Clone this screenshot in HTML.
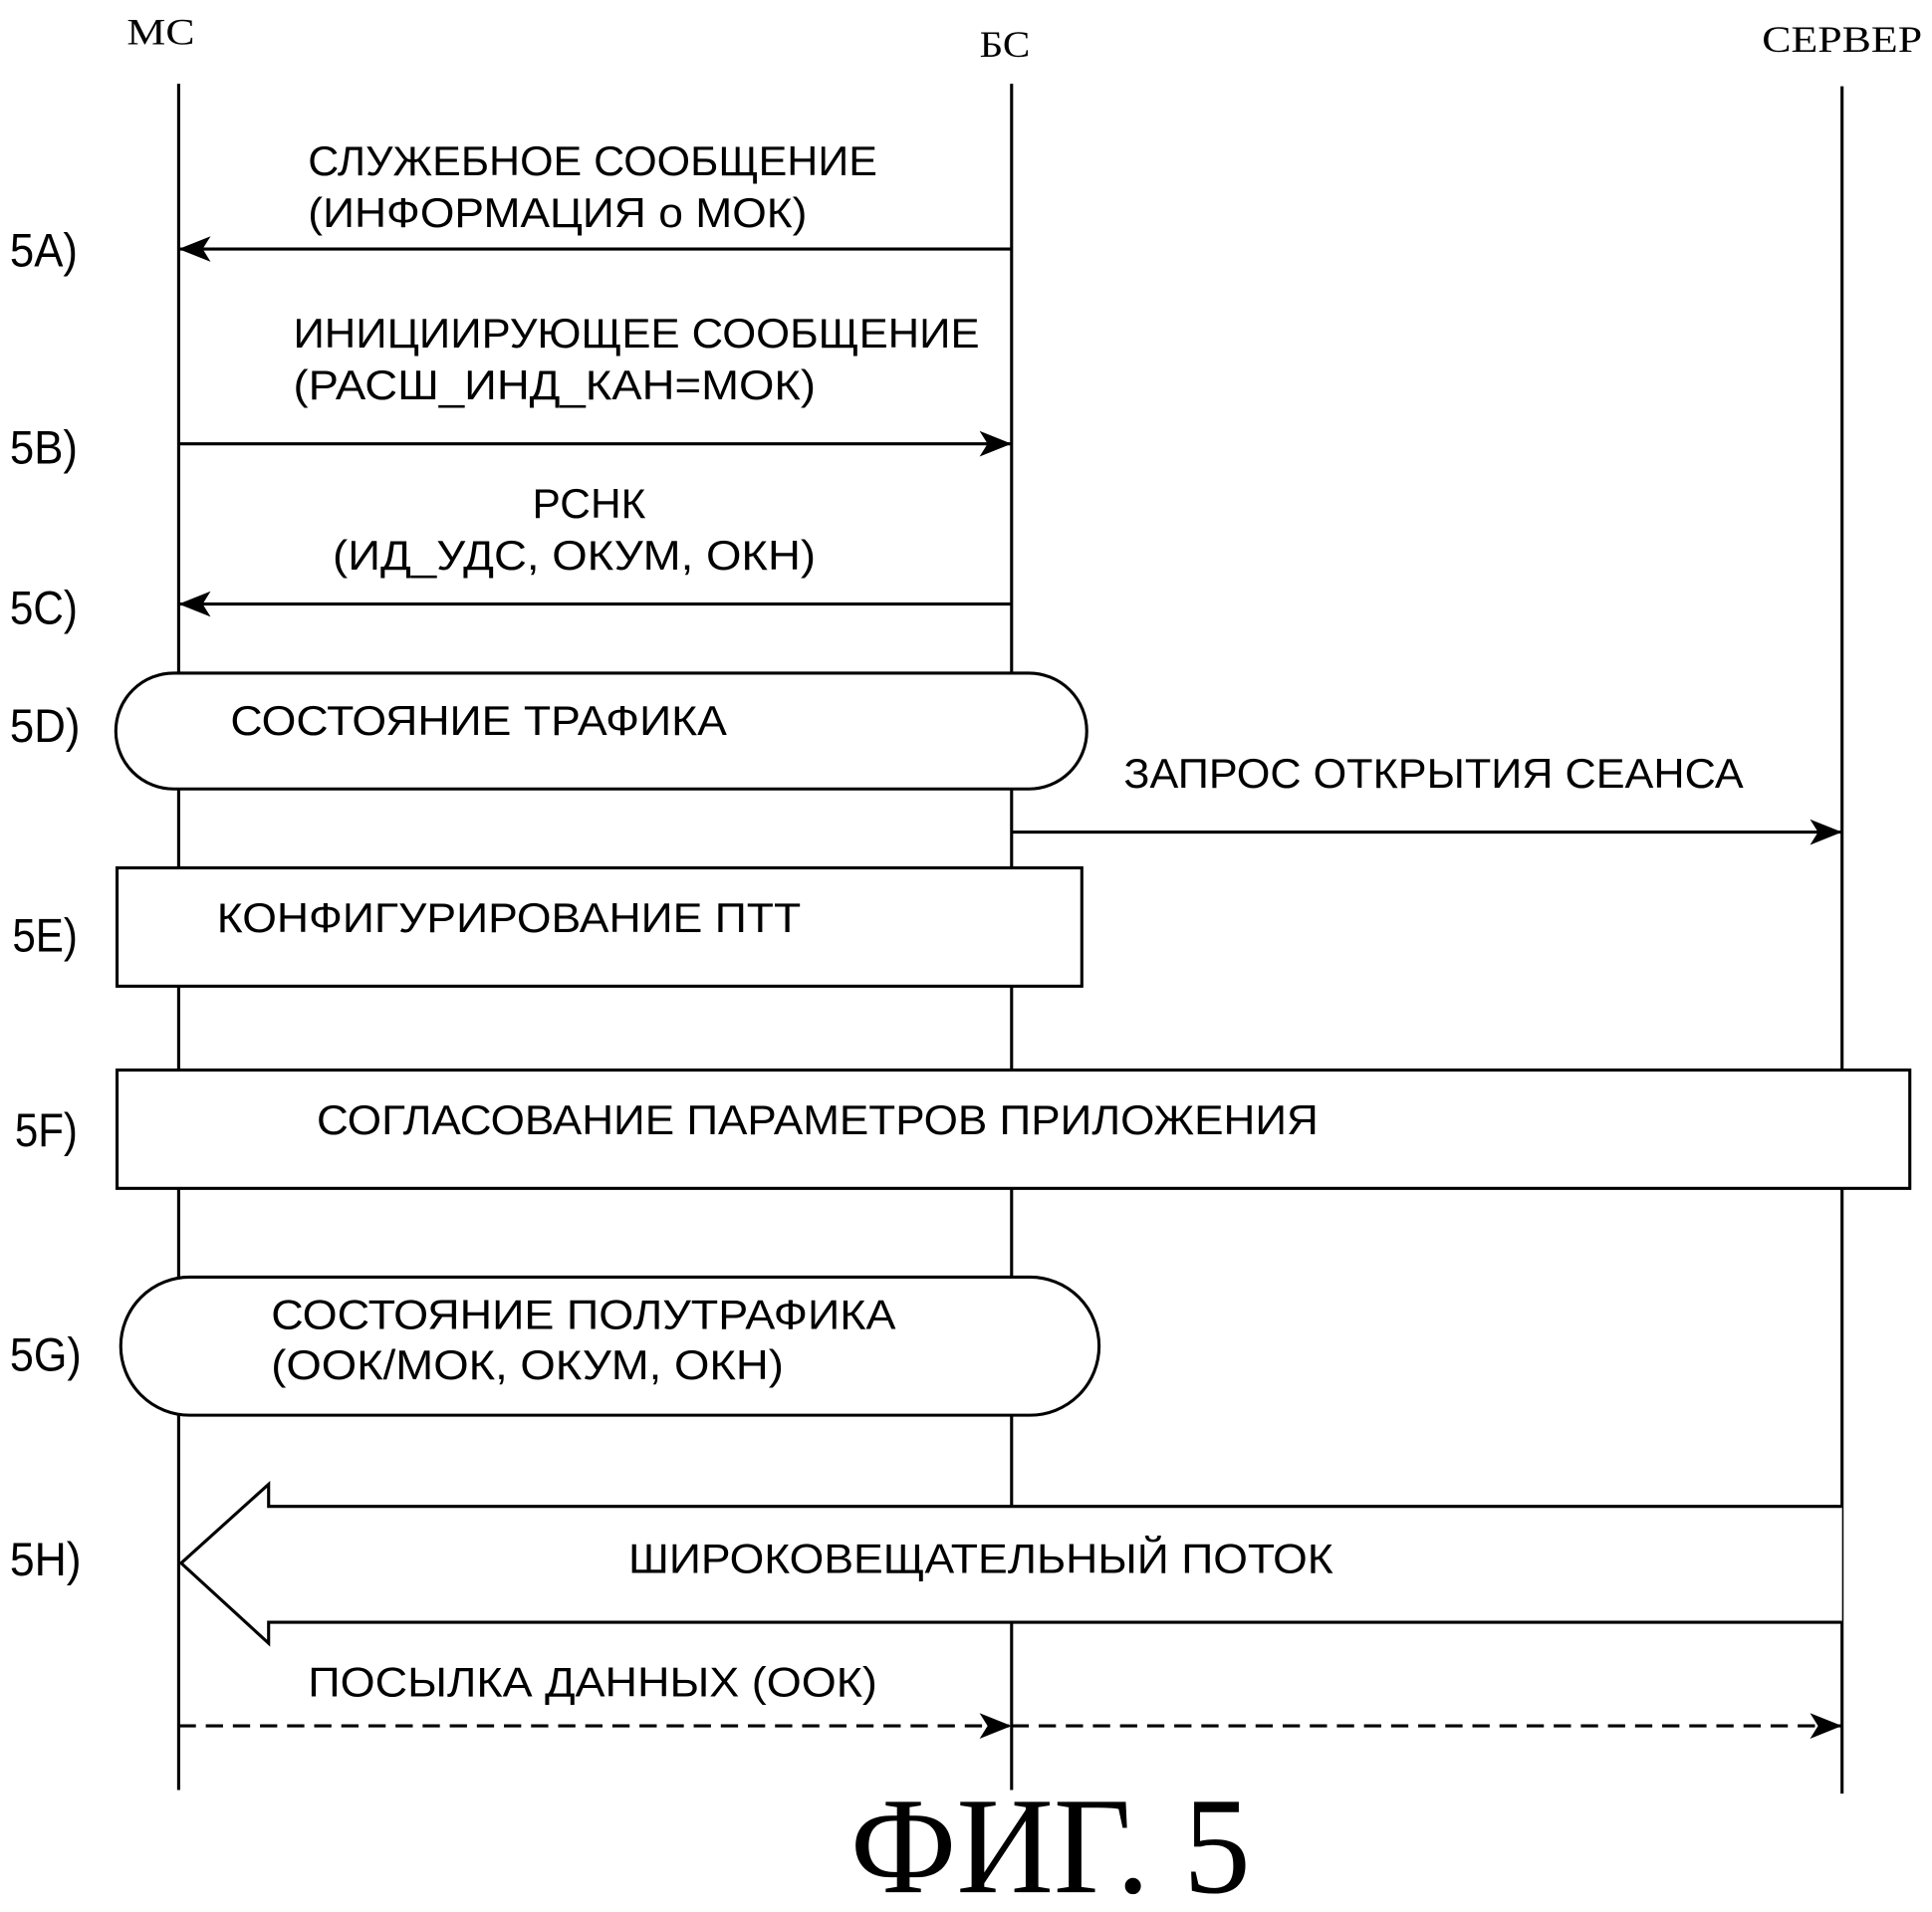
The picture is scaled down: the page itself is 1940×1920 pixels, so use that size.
<!DOCTYPE html>
<html><head><meta charset="utf-8"><style>
html,body{margin:0;padding:0;background:#fff;}
svg{display:block;}
.s{font-family:"Liberation Sans","DejaVu Sans",sans-serif;fill:#000;}
.r{font-family:"Liberation Serif","DejaVu Serif",serif;fill:#000;}
</style></head><body>
<svg width="1940" height="1920" viewBox="0 0 1568 1551" preserveAspectRatio="none" xmlns="http://www.w3.org/2000/svg">
<defs>
<marker id="a" viewBox="0 0 20 20" refX="20" refY="10" markerWidth="26" markerHeight="26" markerUnits="userSpaceOnUse" orient="auto">
<path d="M0,2 L20,10 L0,18 L5,10 z" fill="#000"/>
</marker>
</defs>
<g stroke="#000" stroke-width="2.5" fill="none">
<line x1="145" y1="68" x2="145" y2="1452"/>
<line x1="821" y1="68" x2="821" y2="1452"/>
<line x1="1495" y1="70" x2="1495" y2="1455"/>
<line x1="821" y1="202" x2="145" y2="202" marker-end="url(#a)"/>
<line x1="145" y1="360" x2="821" y2="360" marker-end="url(#a)"/>
<line x1="821" y1="490" x2="145" y2="490" marker-end="url(#a)"/>
<line x1="821" y1="675" x2="1495" y2="675" marker-end="url(#a)"/>
<line x1="145" y1="1400" x2="821" y2="1400" stroke-dasharray="14,8" marker-end="url(#a)"/>
<line x1="821" y1="1400" x2="1495" y2="1400" stroke-dasharray="14,8" marker-end="url(#a)"/>
<rect x="94" y="546" width="788" height="94" rx="47" fill="#fff"/>
<rect x="95" y="704" width="783" height="96" fill="#fff"/>
<rect x="95" y="868" width="1455" height="96" fill="#fff"/>
<rect x="98" y="1036" width="794" height="112" rx="56" fill="#fff"/>
<path d="M1495,1222 L218,1222 L218,1204 L147,1268 L218,1333 L218,1316 L1495,1316" fill="#fff"/>
</g>
<g class="s" font-size="34" lengthAdjust="spacingAndGlyphs">
<text class="s" x="250" y="142" textLength="462" lengthAdjust="spacingAndGlyphs">СЛУЖЕБНОЕ СООБЩЕНИЕ</text>
<text class="s" x="250" y="184" textLength="405" lengthAdjust="spacingAndGlyphs">(ИНФОРМАЦИЯ о МОК)</text>
<text class="s" x="238" y="282" textLength="557" lengthAdjust="spacingAndGlyphs">ИНИЦИИРУЮЩЕЕ СООБЩЕНИЕ</text>
<text class="s" x="238" y="324" textLength="424" lengthAdjust="spacingAndGlyphs">(РАСШ_ИНД_КАН=МОК)</text>
<text class="s" x="432" y="420" textLength="92" lengthAdjust="spacingAndGlyphs">РСНК</text>
<text class="s" x="270" y="462" textLength="392" lengthAdjust="spacingAndGlyphs">(ИД_УДС, ОКУМ, ОКН)</text>
<text class="s" x="187" y="596" textLength="403" lengthAdjust="spacingAndGlyphs">СОСТОЯНИЕ ТРАФИКА</text>
<text class="s" x="912" y="639" textLength="503" lengthAdjust="spacingAndGlyphs">ЗАПРОС ОТКРЫТИЯ СЕАНСА</text>
<text class="s" x="176" y="756" textLength="474" lengthAdjust="spacingAndGlyphs">КОНФИГУРИРОВАНИЕ ПТТ</text>
<text class="s" x="257" y="920" textLength="813" lengthAdjust="spacingAndGlyphs">СОГЛАСОВАНИЕ ПАРАМЕТРОВ ПРИЛОЖЕНИЯ</text>
<text class="s" x="220" y="1078" textLength="507" lengthAdjust="spacingAndGlyphs">СОСТОЯНИЕ ПОЛУТРАФИКА</text>
<text class="s" x="220" y="1119" textLength="416" lengthAdjust="spacingAndGlyphs">(ООК/МОК, ОКУМ, ОКН)</text>
<text class="s" x="510" y="1276" textLength="572" lengthAdjust="spacingAndGlyphs">ШИРОКОВЕЩАТЕЛЬНЫЙ ПОТОК</text>
<text class="s" x="250" y="1376" textLength="462" lengthAdjust="spacingAndGlyphs">ПОСЫЛКА ДАННЫХ (ООК)</text>
</g>
<text class="r" x="103" y="36" font-size="30" textLength="55" lengthAdjust="spacingAndGlyphs">МС</text>
<text class="r" x="795" y="46" font-size="30" textLength="41" lengthAdjust="spacingAndGlyphs">БС</text>
<text class="r" x="1430" y="42" font-size="30" textLength="130" lengthAdjust="spacingAndGlyphs">СЕРВЕР</text>
<g font-size="38">
<text class="s" x="8" y="216" textLength="55" lengthAdjust="spacingAndGlyphs">5A)</text>
<text class="s" x="8" y="376" textLength="55" lengthAdjust="spacingAndGlyphs">5B)</text>
<text class="s" x="8" y="506" textLength="55" lengthAdjust="spacingAndGlyphs">5C)</text>
<text class="s" x="8" y="602" textLength="57" lengthAdjust="spacingAndGlyphs">5D)</text>
<text class="s" x="10" y="772" textLength="53" lengthAdjust="spacingAndGlyphs">5E)</text>
<text class="s" x="12" y="930" textLength="51" lengthAdjust="spacingAndGlyphs">5F)</text>
<text class="s" x="8" y="1112" textLength="58" lengthAdjust="spacingAndGlyphs">5G)</text>
<text class="s" x="8" y="1278" textLength="58" lengthAdjust="spacingAndGlyphs">5H)</text>
</g>
<text class="r" x="690" y="1535" font-size="112" textLength="325" lengthAdjust="spacingAndGlyphs">ФИГ. 5</text>
</svg>
</body></html>
